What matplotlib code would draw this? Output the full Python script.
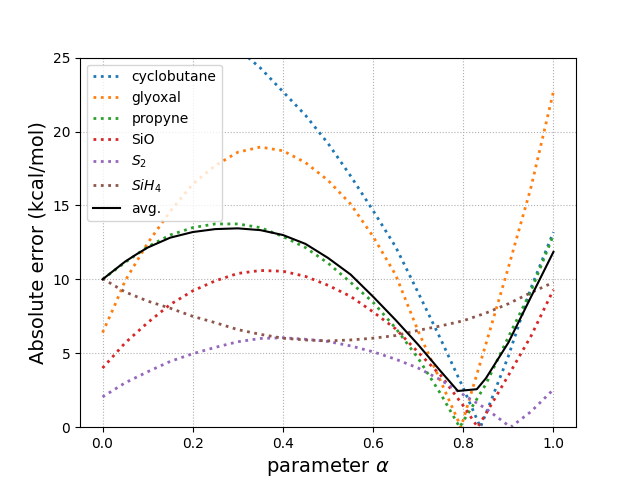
import numpy as np
import matplotlib
matplotlib.use('Agg')
import matplotlib.pyplot as plt

# values (alpha, absolute error)
a_cyclobutane = [0.0, 0.1, 0.2, 0.3, 0.35, 0.4, 0.45, 0.5, 0.55, 0.6, 0.65, 0.7, 0.75, 0.8, 0.838, 0.85, 0.9, 0.95, 1.0]
cyclobutane = [27.8, 27.6, 27.0, 25.6, 24.3, 22.7, 21.1, 19.2, 17.0, 14.65, 12.2, 9.1, 5.95, 2.65, 0.0, 0.9, 4.8, 9.4, 13.2]

a_glyoxal = [0.0, 0.025, 0.05, 0.1, 0.15, 0.2, 0.25, 0.3, 0.35, 0.4, 0.45, 0.5, 0.55, 0.6, 0.65, 0.7, 0.75, 0.795, 0.85, 0.9, 0.95, 1.0]
glyoxal = [6.4, 8.1, 9.9, 12.45, 14.6, 16.45, 17.7, 18.6, 18.95, 18.7, 17.9, 16.7, 15.1, 12.9, 10.3, 6.5, 3.1, 0.0, 5.6, 10.8, 16.2, 22.7]

a_propyne = [0.0, 0.05, 0.1, 0.15, 0.2, 0.25, 0.3, 0.35, 0.4, 0.45, 0.5, 0.55, 0.6, 0.65, 0.7, 0.75, 0.792, 0.85, 0.9, 0.95, 1.0]
propyne = [10.0, 11.15, 12.2, 13.0, 13.5, 13.75, 13.75, 13.5, 12.9, 12.15, 11.1, 9.8, 8.45, 6.7, 4.66, 2.25, 0.0, 2.9, 6.1, 9.2, 13.0]

a_sio = [0.0, 0.05, 0.1, 0.15, 0.2, 0.25, 0.3, 0.35, 0.4, 0.45, 0.5, 0.55, 0.6, 0.65, 0.7, 0.75, 0.8, 0.832, 0.85, 0.9, 0.95, 1.0]
sio = [4.0, 5.7, 7.07, 8.3, 9.22, 9.9, 10.4, 10.6, 10.55, 10.2, 9.6, 8.85, 7.8, 6.65, 5.07, 3.5, 1.45, 0.0, 0.9, 3.5, 6.15, 9.3]

a_s2 = [0.0, 0.05, 0.1, 0.15, 0.2, 0.25, 0.3, 0.35, 0.4, 0.45, 0.5, 0.55, 0.6, 0.65, 0.7, 0.75, 0.8, 0.85, 0.905, 0.95, 1.0]
s2 = [2.05, 3.0, 3.75, 4.45, 4.97, 5.4, 5.78, 6.0, 6.05, 5.95, 5.8, 5.5, 5.1, 4.6, 4.0, 3.2, 2.2, 1.26, 0.0, 1.05, 2.55]

a_sih4 = [0.0, 0.05, 0.1, 0.15, 0.2, 0.25, 0.3, 0.35, 0.4, 0.45, 0.5, 0.55, 0.6, 0.65, 0.7, 0.75, 0.8, 0.85, 0.9, 0.95, 1.0]
sih4 = [10.05, 9.15, 8.53, 8.05, 7.5, 7.07, 6.6, 6.28, 6.02, 5.9, 5.84, 5.9, 6.02, 6.2, 6.55, 6.85, 7.2, 7.72, 8.35, 9.1, 9.8]

a_avg = [0.0, 0.025, 0.05, 0.075, 0.1, 0.15, 0.2, 0.25, 0.3, 0.35, 0.4, 0.45, 0.5, 0.55, 0.6, 0.65, 0.7, 0.75, 0.788, 0.83, 0.85, 0.9, 0.95, 1.0]
avg = [10.0, 10.6, 11.2, 11.69, 12.15, 12.82, 13.2, 13.4, 13.45, 13.33, 13.0, 12.4, 11.45, 10.33, 8.83, 7.25, 5.58, 3.78, 2.45, 2.57, 3.3, 5.72, 8.8, 11.86]

series = [
    (a_cyclobutane, cyclobutane, 'cyclobutane'),
    (a_glyoxal, glyoxal, 'glyoxal'),
    (a_propyne, propyne, 'propyne'),
    (a_sio, sio, 'SiO'),
    (a_s2, s2, '$S_2$'),
    (a_sih4, sih4, '$SiH_4$'),
]

fig, ax = plt.subplots(figsize=(6.4, 4.8), dpi=100)

for x, y, name in series:
    ax.plot(x, y, ls=':', lw=2, label=name)
ax.plot(a_avg, avg, color='k', lw=1.5, label='avg.')

ax.set_ylim(0, 25)
ax.set_xlim(-0.05, 1.05)
ax.grid(ls=':')
ax.set_xlabel(r'parameter $\alpha$', fontsize=14)
ax.set_ylabel('Absolute error (kcal/mol)', fontsize=14)
ax.legend(loc='upper left')

fig.savefig('out.png', dpi=100)
